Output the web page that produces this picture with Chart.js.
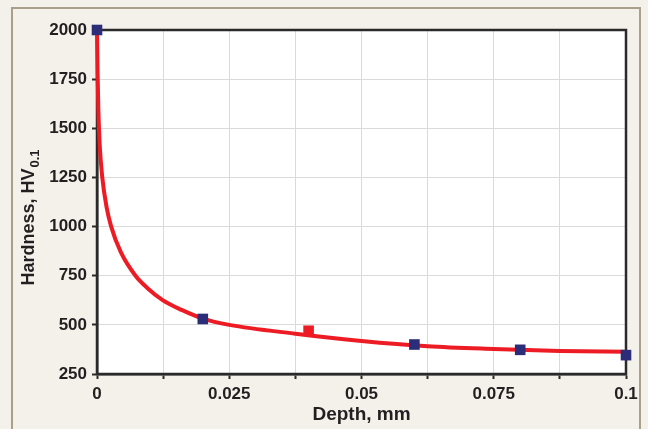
<!DOCTYPE html>
<html>
<head>
<meta charset="utf-8">
<script src="https://cdn.jsdelivr.net/npm/chart.js@4.4.1/dist/chart.umd.min.js"></script>
<style>
  html, body { margin: 0; padding: 0; background: #f4f1eb; }
  #wrap { width: 648px; height: 429px; }
</style>
</head>
<body>
<div id="wrap"><canvas id="myChart" width="648" height="429"></canvas></div>
<script>
'use strict';

// measured hardness (blue squares)
const measDepth = [0, 0.02, 0.06, 0.08, 0.1];
const measHardness = [2000, 530, 400, 373, 346];
// the odd one out (red square)
const outDepth = [0.04];
const outHardness = [470];
// fitted curve
const fitDepth = [0, 0.0001, 0.00025, 0.0005, 0.001, 0.0018, 0.00268, 0.0045, 0.00728, 0.0095, 0.0124, 0.016, 0.02, 0.025, 0.0375, 0.05, 0.0625, 0.075, 0.0875, 0.1];
const fitHardness = [2000, 1800, 1600, 1420, 1250, 1100, 1000, 870, 750, 688, 626, 576, 532, 500, 455, 418, 391, 377, 367, 363];

const xTickLabels = ['0', '0.025', '0.05', '0.075', '0.1'];
const yTicks = [250, 500, 750, 1000, 1250, 1500, 1750, 2000];

function pts(xs, ys) {
    return xs.map((x, i) => ({ x: x, y: ys[i] }));
}

const ink = '#231f20';
const tickFont = { family: "'Liberation Sans', Arial, sans-serif", size: 17, weight: 'bold' };

//// background, outer frame, white plot area
const framePlugin = {
    id: 'frame',
    beforeDraw(chart) {
        const c = chart.ctx;
        const a = chart.chartArea;
        c.save();
        c.fillStyle = '#f4f1eb';
        c.fillRect(0, 0, chart.width, chart.height);
        c.strokeStyle = '#a99f8a';
        c.lineWidth = 2;
        c.strokeRect(12, 8, chart.width - 20, chart.height + 10);
        c.fillStyle = '#ffffff';
        c.fillRect(a.left, a.top, a.right - a.left, a.bottom - a.top);
        c.restore();
    },
    beforeDatasetsDraw(chart) {
        const c = chart.ctx;
        const a = chart.chartArea;
        c.save();
        c.strokeStyle = '#2a2a2a';
        c.lineWidth = 2.5;
        c.strokeRect(a.left, a.top, a.right - a.left, a.bottom - a.top);
        c.restore();
    },
    afterDraw(chart) {
        // y title with subscript
        const c = chart.ctx;
        const a = chart.chartArea;
        c.save();
        c.fillStyle = ink;
        c.translate(34, (a.top + a.bottom) / 2 + 16);
        c.rotate(-Math.PI / 2);
        c.textBaseline = 'alphabetic';
        c.font = "bold 18px 'Liberation Sans', Arial, sans-serif";
        const main = 'Hardness, HV';
        const w = c.measureText(main).width;
        c.font = "bold 13px 'Liberation Sans', Arial, sans-serif";
        const sw = c.measureText('0.1').width;
        const start = -(w + sw) / 2;
        c.font = "bold 18px 'Liberation Sans', Arial, sans-serif";
        c.fillText(main, start, 0);
        c.font = "bold 13px 'Liberation Sans', Arial, sans-serif";
        c.fillText('0.1', start + w + 1, 5);
        c.restore();
    }
};

const ctx = document.getElementById('myChart').getContext('2d');

const chart = new Chart(ctx, {
    type: 'scatter',
    data: {
        datasets: [{
                label: 'Measured',
                data: pts(measDepth, measHardness),
                pointStyle: 'rect',
                pointRadius: 7.5,
                pointHoverRadius: 7.5,
                backgroundColor: '#2b2d78',
                borderColor: '#2b2d78',
                borderWidth: 0,
                clip: false,
        },
            {
                label: 'Outlier',
                data: pts(outDepth, outHardness),
                pointStyle: 'rect',
                pointRadius: 7.5,
                backgroundColor: '#ed1c24',
                borderColor: '#ed1c24',
                borderWidth: 0,
                clip: false,
        },
            {
                label: 'Fit',
                type: 'line',
                data: pts(fitDepth, fitHardness),
                borderColor: '#ed1c24',
                borderWidth: 4,
                pointRadius: 0,
                cubicInterpolationMode: 'monotone',
                fill: false,
                clip: false,
        }]
    },
    options: {
        responsive: false,
        animation: false,
        devicePixelRatio: 1,
        layout: { padding: { left: 0, top: 30, right: 22, bottom: 0 } },
        plugins: {
            legend: { display: false },
            tooltip: { enabled: false }
        },
        scales: {
            x: {
                type: 'linear',
                min: 0,
                max: 0.1,
                afterFit(scale) { scale.height = 55; },
                ticks: {
                    stepSize: 0.0125,
                    autoSkip: false,
                    maxRotation: 0,
                    color: ink,
                    font: tickFont,
                    padding: 5,
                    callback: (v, i) => (i % 2 === 0 ? xTickLabels[i / 2] : '')
                },
                grid: {
                    color: '#dadada',
                    lineWidth: 1,
                    tickColor: '#2a2a2a',
                    tickLength: 5,
                    tickWidth: 2
                },
                border: { color: '#2a2a2a', width: 2.5 },
                title: {
                    display: true,
                    text: 'Depth, mm',
                    color: ink,
                    font: { family: "'Liberation Sans', Arial, sans-serif", size: 19, weight: 'bold' },
                    padding: { top: 0, bottom: 3 }
                }
            },
            y: {
                min: 250,
                max: 2000,
                afterFit(scale) { scale.width = 97; },
                afterBuildTicks(scale) { scale.ticks = yTicks.map(v => ({ value: v })); },
                ticks: {
                    color: ink,
                    font: tickFont,
                    padding: 5,
                    callback: v => String(v)
                },
                grid: {
                    color: '#dadada',
                    lineWidth: 1,
                    tickColor: '#2a2a2a',
                    tickLength: 5,
                    tickWidth: 2
                },
                border: { color: '#2a2a2a', width: 2.5 }
            }
        }
    },
    plugins: [framePlugin]
});
</script>
</body>
</html>
